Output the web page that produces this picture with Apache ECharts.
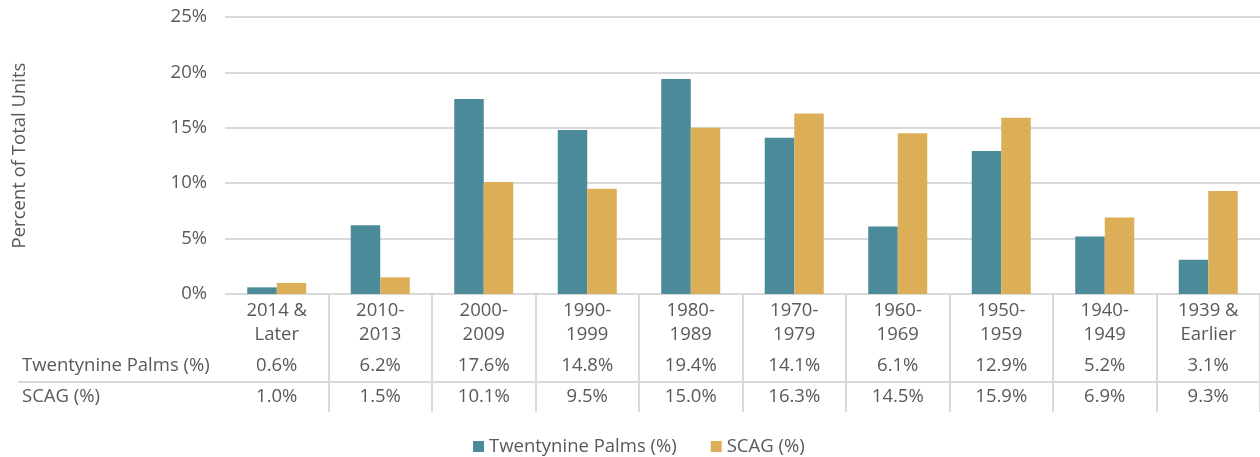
<!DOCTYPE html>
<html><head><meta charset="utf-8">
<script src="https://cdn.jsdelivr.net/npm/echarts@6/dist/echarts.min.js"></script>
<style>html,body{margin:0;padding:0;background:#fff}#c{width:1260px;height:457px}</style>
</head><body><div id="c"></div>
<script>
var categories = ['2014 &\nLater','2010-\n2013','2000-\n2009','1990-\n1999','1980-\n1989','1970-\n1979','1960-\n1969','1950-\n1959','1940-\n1949','1939 &\nEarlier'];
var seriesNames = ['Twentynine Palms (%)','SCAG (%)'];
var palmsValues = [0.6, 6.2, 17.6, 14.8, 19.4, 14.1, 6.1, 12.9, 5.2, 3.1];
var scagValues = [1.0, 1.5, 10.1, 9.5, 15.0, 16.3, 14.5, 15.9, 6.9, 9.3];
var yTicks = [0, 5, 10, 15, 20, 25];

var FONT = '"Open Sans", sans-serif';
var TXT = '#595959';
var LINE = '#d9d9d9';
var FS = 18.5;
var fmt = function(v){ return v.toFixed(1) + '%'; };

var chart = echarts.init(document.getElementById('c'), null, {renderer:'canvas'});
chart.setOption({
  animation:false,
  textStyle:{fontFamily:FONT, color:TXT},
  grid:{left:225, right:0, top:17, bottom:163, containLabel:false},
  legend:{
    data:seriesNames, left:468, top:432, itemWidth:11, itemHeight:11, itemGap:34,
    icon:'rect', textStyle:{fontFamily:FONT, fontSize:FS, color:TXT}
  },
  xAxis:[
    {type:'category', data:categories, position:'bottom',
     axisLine:{show:true, lineStyle:{color:LINE, width:1}},
     axisTick:{show:true, length:118, lineStyle:{color:LINE, width:2},
       interval:function(i){ return i > 0; }},
     axisLabel:{fontFamily:FONT, fontSize:FS, color:TXT, lineHeight:24, margin:5, interval:0}},
    {type:'category', data:palmsValues.map(fmt), position:'bottom', offset:52,
     axisLine:{show:false}, axisTick:{show:false},
     axisLabel:{fontFamily:FONT, fontSize:FS, color:TXT, lineHeight:24, margin:8, interval:0}},
    {type:'category', data:scagValues.map(fmt), position:'bottom', offset:83,
     axisLine:{show:false}, axisTick:{show:false},
     axisLabel:{fontFamily:FONT, fontSize:FS, color:TXT, lineHeight:24, margin:8, interval:0}}
  ],
  yAxis:{type:'value', min:yTicks[0], max:yTicks[yTicks.length-1], interval:5,
    name:'Percent of Total Units', nameLocation:'middle', nameGap:196, nameRotate:90,
    nameTextStyle:{fontFamily:FONT, fontSize:18.5, color:TXT},
    axisLine:{show:false}, axisTick:{show:false},
    axisLabel:{formatter:'{value}%', fontFamily:FONT, fontSize:FS, color:TXT, margin:18},
    splitLine:{lineStyle:{color:LINE, width:2}}},
  graphic:[
    {type:'line', shape:{x1:18, y1:382, x2:1260, y2:382}, style:{stroke:LINE, lineWidth:2}},
    {type:'text', x:22, y:366, style:{text:seriesNames[0], font:FS+'px '+FONT, fill:TXT, textVerticalAlign:'middle'}},
    {type:'text', x:22, y:397, style:{text:seriesNames[1], font:FS+'px '+FONT, fill:TXT, textVerticalAlign:'middle'}}
  ],
  series:[
    {name:seriesNames[0], type:'bar', data:palmsValues, xAxisIndex:0, barGap:'0%', barCategoryGap:'43%',
     itemStyle:{color:'#4a8a99'}},
    {name:seriesNames[1], type:'bar', data:scagValues, xAxisIndex:0,
     itemStyle:{color:'#dcae57'}}
  ]
});
</script></body></html>
